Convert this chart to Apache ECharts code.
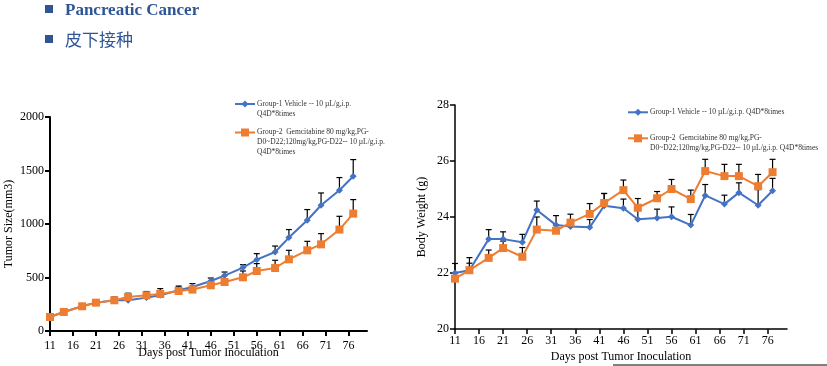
<!DOCTYPE html>
<html><head><meta charset="utf-8">
<script src="https://cdn.jsdelivr.net/npm/echarts@6/dist/echarts.min.js"></script>
<style>html,body{margin:0;padding:0;background:#fff}#c{width:827px;height:366px}</style>
</head><body><div id="c"></div>
<script>
const days = [11,14,18,21,25,28,32,35,39,42,46,49,53,56,60,63,67,70,74,77];
const xTicks = [11,16,21,26,31,36,41,46,51,56,61,66,71,76];
const tumorBlue = [131,178,231,265,287,287,312,334,380,411,467,518,593,667,738,873,1035,1175,1315,1446];
const tumorBlueErr = [10,12,25,20,30,30,35,40,40,32,28,33,27,56,56,75,100,115,119,156];
const tumorOrange = [131,178,231,265,287,318,334,346,374,387,427,458,502,561,589,670,754,810,948,1097];
const tumorOrangeErr = [10,12,20,18,25,35,35,50,35,30,25,25,59,69,72,84,84,100,124,131];
const bwBlue = [22.0,22.1,23.21,23.21,23.1,24.25,23.71,23.66,23.63,24.4,24.31,23.92,23.96,24.01,23.71,24.77,24.46,24.87,24.42,24.94];
const bwBlueErr = [0.34,0.45,0.34,0.26,0.28,0.32,0.34,0.2,0.28,0.44,0.33,0.41,0.32,0.35,0.38,0.39,0.32,0.35,0.56,0.44];
const bwOrange = [21.8,22.1,22.54,22.89,22.58,23.55,23.51,23.8,24.11,24.5,24.96,24.33,24.67,25.0,24.64,25.64,25.46,25.46,25.1,25.6];
const bwOrangeErr = [0.2,0.25,0.28,0.25,0.33,0.45,0.2,0.3,0.37,0.34,0.36,0.33,0.24,0.34,0.32,0.42,0.42,0.42,0.42,0.46];
const legendBlueL = ['Group-1 Vehicle -- 10 µL/g,i.p.', 'Q4D*8times'];
const legendOrangeL = ['Group-2  Gemcitabine 80 mg/kg,PG-', 'D0~D22;120mg/kg,PG-D22-- 10 µL/g,i.p.', 'Q4D*8times'];
const legendBlueR = ['Group-1 Vehicle -- 10 µL/g,i.p. Q4D*8times'];
const legendOrangeR = ['Group-2  Gemcitabine 80 mg/kg,PG-', 'D0~D22;120mg/kg,PG-D22-- 10 µL/g,i.p. Q4D*8times'];

const BLUE = '#4472C4', ORANGE = '#ED7D31';
const FONT = 'Liberation Serif';
const chart = echarts.init(document.getElementById('c'));

function pairs(x, y, e) { return x.map((d, i) => e ? [d, y[i], e[i]] : [d, y[i]]); }
function errSeries(idx, x, y, e) {
  return {
    type: 'custom', xAxisIndex: idx, yAxisIndex: idx, z: 1, silent: true,
    data: pairs(x, y, e),
    renderItem: function (params, api) {
      const p0 = api.coord([api.value(0), api.value(1)]);
      const p1 = api.coord([api.value(0), api.value(1) + api.value(2)]);
      return { type: 'group', children: [
        { type: 'line', shape: { x1: p0[0], y1: p0[1], x2: p1[0], y2: p1[1] }, style: { stroke: '#000', lineWidth: 1.2 } },
        { type: 'line', shape: { x1: p1[0] - 3, y1: p1[1], x2: p1[0] + 3, y2: p1[1] }, style: { stroke: '#000', lineWidth: 1.2 } }
      ]};
    }
  };
}
function lineSeries(idx, name, x, y, color, symbol, size) {
  return { type: 'line', name: name, xAxisIndex: idx, yAxisIndex: idx, z: 3,
    data: pairs(x, y), symbol: symbol, symbolSize: size, showSymbol: true,
    lineStyle: { color: color, width: 2 }, itemStyle: { color: color } };
}
function xAxis(idx, lw, nameGap, labelMargin) {
  return { type: 'value', gridIndex: idx, min: 11, max: 80,
    name: 'Days post Tumor Inoculation', nameLocation: 'middle', nameGap: nameGap, nameMoveOverlap: false,
    nameTextStyle: { fontFamily: FONT, fontSize: 12, color: '#000' },
    splitLine: { show: false },
    axisLine: { show: true, lineStyle: { color: '#000', width: lw } },
    axisTick: { show: true, length: 5, customValues: xTicks, lineStyle: { color: '#000', width: lw } },
    axisLabel: { customValues: xTicks, margin: labelMargin, fontFamily: FONT, fontSize: 12, color: '#000' } };
}
function yAxis(idx, min, max, interval, name, lw, nameGap) {
  return { type: 'value', gridIndex: idx, min: min, max: max, interval: interval,
    name: name, nameLocation: 'middle', nameGap: nameGap, nameRotate: 90, nameMoveOverlap: false,
    nameTextStyle: { fontFamily: FONT, fontSize: 12, color: '#000' },
    splitLine: { show: false },
    axisLine: { show: true, lineStyle: { color: '#000', width: lw } },
    axisTick: { show: true, length: 5, lineStyle: { color: '#000', width: lw } },
    axisLabel: { margin: 6, fontFamily: FONT, fontSize: 12, color: '#000', formatter: v => String(v) } };
}
function legendGraphic(x, y, color, symbol, lines, lineH) {
  const els = [
    { type: 'line', shape: { x1: x, y1: y, x2: x + 20, y2: y }, style: { stroke: color, lineWidth: 2 } }
  ];
  if (symbol === 'diamond') {
    els.push({ type: 'polygon', shape: { points: [[x + 10, y - 3.5], [x + 13.5, y], [x + 10, y + 3.5], [x + 6.5, y]] }, style: { fill: color } });
  } else {
    els.push({ type: 'rect', shape: { x: x + 6, y: y - 4, width: 8, height: 8 }, style: { fill: color } });
  }
  lines.forEach((t, i) => els.push({ type: 'text', x: x + 22, y: y + i * lineH,
    style: { text: t, fontFamily: FONT, fontSize: 7.5, fill: '#333', verticalAlign: 'middle', align: 'left' } }));
  return els;
}

const graphics = [].concat(
  [
    { type: 'rect', shape: { x: 45, y: 5, width: 8, height: 8 }, style: { fill: '#2F5597' } },
    { type: 'text', x: 65, y: 11, style: { text: 'Pancreatic Cancer', fontFamily: FONT, fontWeight: 'bold', fontSize: 17, fill: '#2F5597', verticalAlign: 'middle' } },
    { type: 'rect', shape: { x: 45, y: 35, width: 8, height: 8 }, style: { fill: '#2F5597' } },
    { type: 'text', x: 65, y: 40, style: { text: '皮下接种', fontFamily: 'Noto Sans CJK SC', fontSize: 17, fill: '#2F5597', verticalAlign: 'middle' } },
    { type: 'line', shape: { x1: 613, y1: 365, x2: 827, y2: 365 }, style: { stroke: '#000', lineWidth: 1 } }
  ],
  legendGraphic(235, 104, BLUE, 'diamond', legendBlueL, 9.7),
  legendGraphic(235, 132.5, ORANGE, 'rect', legendOrangeL, 9.7),
  legendGraphic(628, 112.3, BLUE, 'diamond', legendBlueR, 9.5),
  legendGraphic(628, 138.3, ORANGE, 'rect', legendOrangeR, 9.5)
);

chart.setOption({
  animation: false,
  backgroundColor: '#fff',
  grid: [
    { left: 50, right: 460, top: 117, bottom: 35, outerBoundsMode: 'none', containLabel: false },
    { left: 455, right: 40, top: 105, bottom: 37, outerBoundsMode: 'none', containLabel: false }
  ],
  xAxis: [xAxis(0, 2, 16, 9), xAxis(1, 1.5, 22, 6)],
  yAxis: [
    yAxis(0, 0, 2000, 500, 'Tumor Size(mm3)', 2, 35),
    yAxis(1, 20, 28, 2, 'Body Weight (g)', 1.5, 27)
  ],
  series: [
    errSeries(0, days, tumorBlue, tumorBlueErr),
    errSeries(0, days, tumorOrange, tumorOrangeErr),
    lineSeries(0, 'Group-1', days, tumorBlue, BLUE, 'diamond', 7),
    lineSeries(0, 'Group-2', days, tumorOrange, ORANGE, 'rect', 8),
    errSeries(1, days, bwBlue, bwBlueErr),
    errSeries(1, days, bwOrange, bwOrangeErr),
    lineSeries(1, 'Group-1', days, bwBlue, BLUE, 'diamond', 7),
    lineSeries(1, 'Group-2', days, bwOrange, ORANGE, 'rect', 8)
  ],
  graphic: graphics
});
</script></body></html>
